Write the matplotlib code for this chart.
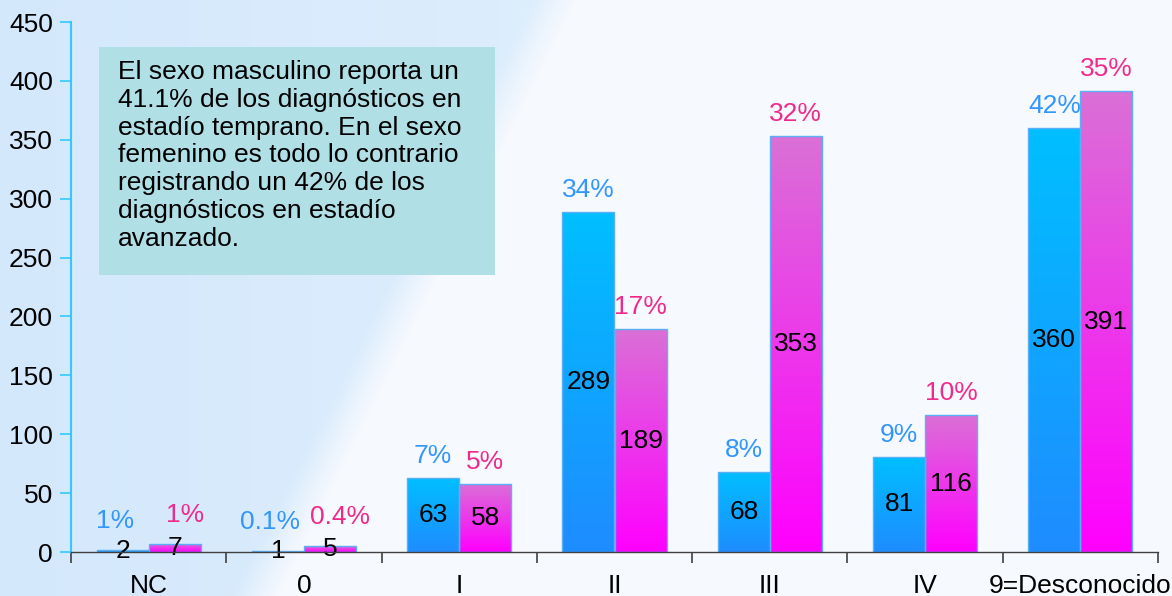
import numpy as np
import matplotlib
matplotlib.use("Agg")
import matplotlib.pyplot as plt
from matplotlib.patches import Rectangle
from matplotlib.colors import LinearSegmentedColormap

plt.rcParams['font.family'] = ['Liberation Sans', 'DejaVu Sans']

categories = ["NC", "0", "I", "II", "III", "IV", "9=Desconocido"]
masculino = [2, 1, 63, 289, 68, 81, 360]
femenino = [7, 5, 58, 189, 353, 116, 391]
pct_masculino = ["1%", "0.1%", "7%", "34%", "8%", "9%", "42%"]
pct_femenino = ["1%", "0.4%", "5%", "17%", "32%", "10%", "35%"]
yticks = [0, 50, 100, 150, 200, 250, 300, 350, 400, 450]
note = ("El sexo masculino reporta un\n41.1% de los diagnósticos en\n"
        "estadío temprano. En el sexo\nfemenino es todo lo contrario\n"
        "registrando un 42% de los\ndiagnósticos en estadío\navanzado.")

W, H = 1172, 596
fig = plt.figure(figsize=(W / 100, H / 100), dpi=100)

# background gradient (light blue on left, near white on right with diagonal transition)
bg = fig.add_axes([0, 0, 1, 1], zorder=-10)
bg.set_axis_off()
yy, xx = np.mgrid[0:H, 0:W]
x0 = 530 - 0.5 * yy
t = np.clip((xx - x0) / 45.0, 0, 1)
left_c = np.array([212, 232, 252]) / 255.0
left_c2 = np.array([220, 237, 252]) / 255.0
right_c = np.array([246, 249, 254]) / 255.0
lc = left_c[None, None, :] * (1 - xx[..., None] / 500) + left_c2[None, None, :] * (xx[..., None] / 500)
img = lc * (1 - t[..., None]) + right_c[None, None, :] * t[..., None]
bg.imshow(img, extent=[0, 1, 0, 1], aspect='auto', origin='upper')
bg.set_xlim(0, 1)
bg.set_ylim(0, 1)

ax = fig.add_axes([71 / W, 44 / H, (1158 - 71) / W, (552 - 22) / H])
ax.patch.set_alpha(0)

n = len(categories)
x = np.arange(n)
bw = 0.335
blue_cmap = LinearSegmentedColormap.from_list("b", ["#1E8CFF", "#00BFFF"])
mag_cmap = LinearSegmentedColormap.from_list("m", ["#FF00FF", "#DA70D6"])

ax.set_xlim(-0.5, n - 0.5)
ax.set_ylim(0, 450)

grad = np.linspace(0, 1, 256).reshape(-1, 1)
def grad_bars(xs, vals, cmap):
    bars = ax.bar(xs, vals, width=bw, color='none', edgecolor='#5AAFF5', linewidth=1.0, zorder=3)
    for b, v in zip(bars, vals):
        x0b = b.get_x()
        im = ax.imshow(grad, extent=[x0b, x0b + bw, 0, v], origin='lower',
                       cmap=cmap, aspect='auto', zorder=2)
        im.set_clip_path(b)
    return bars

grad_bars(x - bw / 2, masculino, blue_cmap)
grad_bars(x + bw / 2, femenino, mag_cmap)
ax.set_xlim(-0.5, n - 0.5)
ax.set_ylim(0, 450)

fs = 19
for xi, v in zip(x - bw / 2, masculino):
    ax.text(xi, v / 2, str(v), ha='center', va='center', fontsize=fs, color='black', zorder=5)
for xi, v in zip(x + bw / 2, femenino):
    ax.text(xi, v / 2, str(v), ha='center', va='center', fontsize=fs, color='black', zorder=5)

def off(v):
    return 22 if v > 10 else 29
def shift(v, side):
    return 0 if v > 10 else side * 8
for xi, v, p in zip(x - bw / 2, masculino, pct_masculino):
    ax.annotate(p, (xi, v), xytext=(shift(v, -1) * 0.72, off(v) * 0.72), textcoords='offset points',
                ha='center', va='center', fontsize=fs, color='#3296FF', zorder=5)
for xi, v, p in zip(x + bw / 2, femenino, pct_femenino):
    ax.annotate(p, (xi, v), xytext=(shift(v, 1.3) * 0.72, off(v) * 0.72), textcoords='offset points',
                ha='center', va='center', fontsize=fs, color='#F02A8C', zorder=5)

# axes styling
for s in ['top', 'right']:
    ax.spines[s].set_visible(False)
ax.spines['left'].set_color('#33C8FF')
ax.spines['left'].set_linewidth(1.5)
ax.spines['bottom'].set_color('#404040')
ax.spines['bottom'].set_linewidth(1.0)
ax.spines['bottom'].set_zorder(6)

ax.set_yticks(yticks)
ax.tick_params(axis='y', colors='#33C8FF', length=8, width=1.2, pad=5, labelsize=fs, labelcolor='black')
ax.set_xticks(x)
ax.set_xticklabels(categories)
ax.tick_params(axis='x', which='major', length=0, pad=16, labelsize=fs, labelcolor='black')
ax.set_xticks(np.arange(n + 1) - 0.5, minor=True)
ax.tick_params(axis='x', which='minor', length=8, width=1.2, color='#404040', direction='out')

# note box
fig.patches.append(Rectangle((99 / W, (H - 275) / H), 396 / W, 228 / H,
                             transform=fig.transFigure, facecolor='#B0DFE5',
                             edgecolor='none', zorder=1))
fig.text(118 / W, (H - 60) / H, note, ha='left', va='top', fontsize=fs,
         linespacing=1.2, color='black', zorder=2)

fig.savefig("out.png", dpi=100)
